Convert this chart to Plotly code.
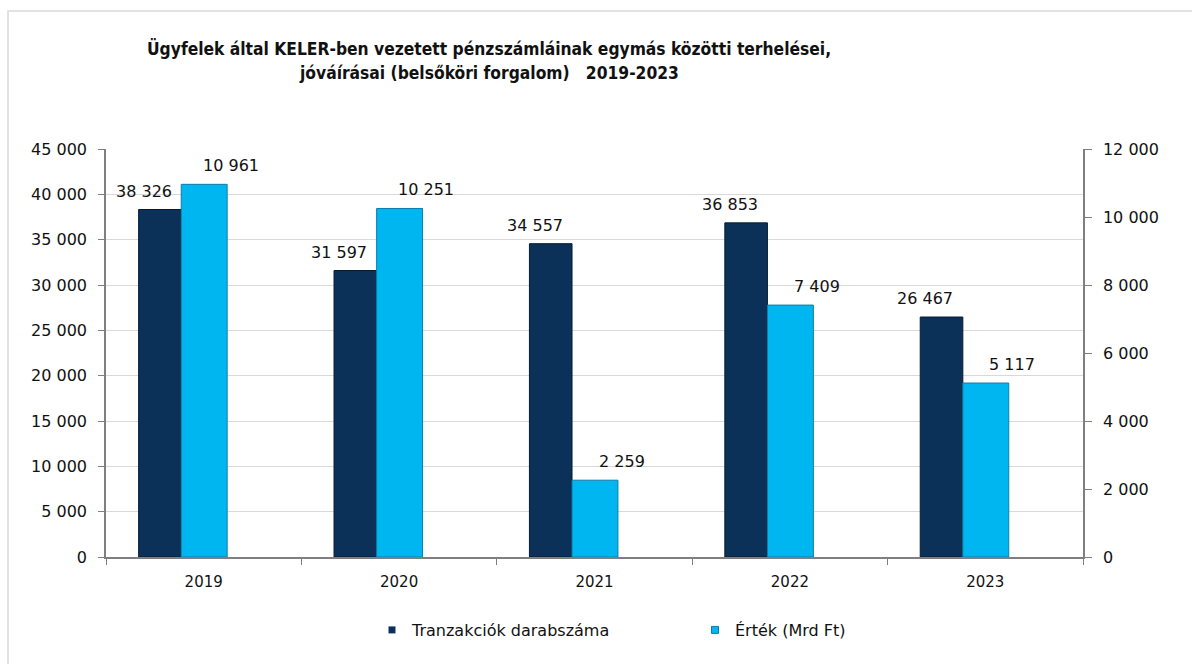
import plotly.graph_objects as go

years = ["2019", "2020", "2021", "2022", "2023"]
tranzakciok = [38326, 31597, 34557, 36853, 26467]
ertek = [10961, 10251, 2259, 7409, 5117]
series_names = ["Tranzakciók darabszáma", "Érték (Mrd Ft)"]
title_lines = ["Ügyfelek által KELER-ben vezetett pénzszámláinak egymás közötti terhelései,",
               "jóváírásai (belsőköri forgalom)\u00a0\u00a0\u00a02019-2023"]

DARK = "#0c3159"
LIGHT = "#00b6f0"
FONT = "DejaVu Sans"

# plot-area geometry in pixels (for paper-coordinate conversions)
L, R, T, B = 106, 1083, 149, 557
def px_x(px):
    return (px - L) / (R - L)
def px_y(py):
    return (B - py) / (B - T)

def fmt(v):
    return f"{v:,}".replace(",", "\u00a0")

fig = go.Figure()
fig.add_trace(go.Bar(
    x=years, y=tranzakciok, name=series_names[0], yaxis="y",
    width=0.218, offset=-0.333,
    marker=dict(color=DARK, line=dict(color="#061c35", width=1)),
    showlegend=False,
))
fig.add_trace(go.Bar(
    x=years, y=ertek, name=series_names[1], yaxis="y2",
    width=0.235, offset=-0.115,
    marker=dict(color=LIGHT, line=dict(color="#0a7ea8", width=1)),
    showlegend=False,
))
# legend entries with small square markers (no data points)
fig.add_trace(go.Scatter(x=[years[0]], y=[None], mode="markers", name=series_names[0],
                         marker=dict(symbol="square", size=7, color=DARK)))
fig.add_trace(go.Scatter(x=[years[0]], y=[None], mode="markers", name=series_names[1],
                         marker=dict(symbol="square", size=7, color=LIGHT,
                                     line=dict(color="#0a7ea8", width=1))))

annotations = []
for i, v in enumerate(tranzakciok):
    annotations.append(dict(x=i, y=v, xref="x", yref="y", text=fmt(v), showarrow=False,
                            xanchor="center", yanchor="bottom", xshift=-60, yshift=7,
                            font=dict(family=FONT, size=16, color="#111")))
for i, v in enumerate(ertek):
    annotations.append(dict(x=i, y=v, xref="x", yref="y2", text=fmt(v), showarrow=False,
                            xanchor="center", yanchor="bottom", xshift=27, yshift=7,
                            font=dict(family=FONT, size=16, color="#111")))
title_y = [48, 73]
for line, yy in zip(title_lines, title_y):
    annotations.append(dict(x=px_x(489), y=px_y(yy), xref="paper", yref="paper",
                            text=f"<b>{line}</b>", showarrow=False,
                            xanchor="center", yanchor="middle",
                            font=dict(family="DejaVu Sans Condensed", size=17.3, color="#111")))

fig.update_layout(
    width=1192, height=664,
    margin=dict(l=L, r=1192 - R, t=T, b=664 - B),
    paper_bgcolor="white", plot_bgcolor="white",
    separators=".\u00a0",
    barmode="overlay",
    font=dict(family=FONT, size=15, color="#111"),
    xaxis=dict(type="category", categoryorder="array", categoryarray=years,
               range=[-0.5, len(years) - 0.5], showline=True, linecolor="#7f7f7f",
               linewidth=1.5, ticks="outside", tickson="boundaries", ticklen=6,
               tickcolor="#7f7f7f", showgrid=False, tickangle=0, ticklabelstandoff=10,
               tickfont=dict(family=FONT, size=15, color="#111")),
    yaxis=dict(range=[0, 45000], dtick=5000, tickformat=",d", separatethousands=True,
               showline=True, linecolor="#7f7f7f", linewidth=1.5, ticks="outside",
               ticklen=6, tickcolor="#7f7f7f", showgrid=True, gridcolor="#d9d9d9",
               zeroline=False, ticklabelstandoff=8,
               tickfont=dict(family=FONT, size=16, color="#111")),
    yaxis2=dict(range=[0, 12000], dtick=2000, tickformat=",d", separatethousands=True,
                overlaying="y", side="right", showline=True, linecolor="#7f7f7f",
                linewidth=1.5, ticks="outside", ticklen=7, tickcolor="#7f7f7f",
                showgrid=False, zeroline=False, ticklabelstandoff=8,
                tickfont=dict(family=FONT, size=16, color="#111")),
    legend=dict(orientation="h", x=px_x(372), xanchor="left",
                y=px_y(630), yanchor="middle", itemwidth=30, entrywidth=278,
                font=dict(family=FONT, size=16, color="#111"), bgcolor="rgba(0,0,0,0)"),
    annotations=annotations,
    shapes=[dict(type="rect", xref="paper", yref="paper",
                 x0=px_x(8), x1=px_x(1200), y0=px_y(670), y1=px_y(11),
                 line=dict(color="#d9d9d9", width=1.5), fillcolor="rgba(0,0,0,0)",
                 layer="below")],
)

fig.write_html("out.html", config={"displayModeBar": False},
               post_script="document.body.style.margin='0';")
